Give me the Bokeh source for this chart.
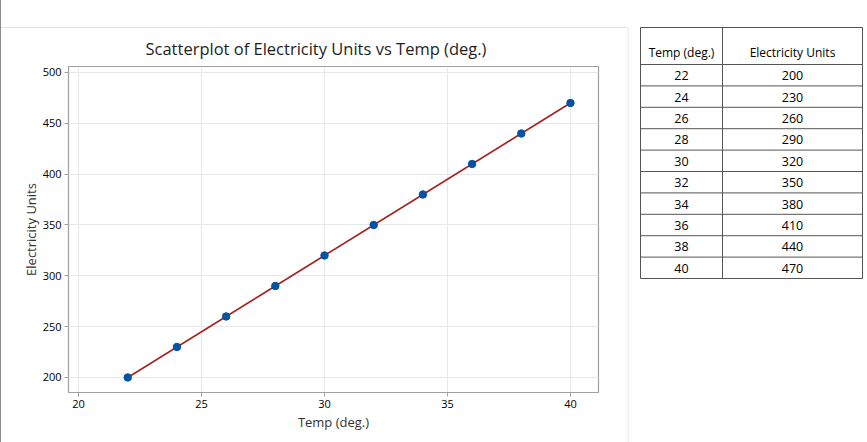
from bokeh.plotting import figure
from bokeh.layouts import row, column
from bokeh.models import Range1d, FixedTicker, Title
from bokeh.core.properties import value
from bokeh.embed import file_html
from bokeh.resources import INLINE

# Observations
temp = [22, 24, 26, 28, 30, 32, 34, 36, 38, 40]
units = [200, 230, 260, 290, 320, 350, 380, 410, 440, 470]
x_ticks = [20, 25, 30, 35, 40]
y_ticks = [200, 250, 300, 350, 400, 450, 500]
headers = ["Temp (deg.)", "Electricity Units"]

FONT = "Open Sans"

# ---- scatterplot ----
p = figure(width=627, height=442, output_backend="svg", toolbar_location=None,
           x_range=Range1d(19.59, 41.14), y_range=Range1d(185.2, 505.9),
           min_border_left=68, min_border_right=29, min_border_top=66,
           min_border_bottom=50)
p.title = Title(text="Scatterplot of Electricity Units vs Temp (deg.)",
                align="left", text_font=FONT, text_font_size="16.5px",
                text_font_style="normal", text_color="#1e1e1e", offset=77,
                standoff=14)
p.outline_line_color = "#a0a0a0"
p.outline_line_width = 1.2
p.background_fill_color = "white"
# transparent margins let the panel frame (drawn by CSS below) show through
p.border_fill_alpha = 0
p.styles = {
    "background": ("linear-gradient(#8c8c8c, #8c8c8c) 0 0 / 1px 442px no-repeat, "
                   "linear-gradient(#e0e0e0, #e0e0e0) 0 27px / 627px 1px no-repeat, "
                   "white"),
}

for ax in (p.xaxis, p.yaxis):
    ax.axis_line_color = "#a0a0a0"
    ax.major_tick_line_color = "#a0a0a0"
    ax.minor_tick_line_color = None
    ax.major_tick_in = 0
    ax.major_tick_out = 4
    ax.major_label_text_font = FONT
    ax.major_label_text_font_size = "11px"
    ax.major_label_text_color = "#000000"
    ax.axis_label_text_font = FONT
    ax.axis_label_text_font_size = "13px"
    ax.axis_label_text_font_style = "normal"
    ax.axis_label_text_color = "#333333"
p.xaxis.ticker = FixedTicker(ticks=x_ticks)
p.yaxis.ticker = FixedTicker(ticks=y_ticks)
p.xaxis.axis_label = "Temp (deg.)"
p.yaxis.axis_label = "Electricity Units"
p.xaxis.major_label_standoff = 3
p.yaxis.major_label_standoff = 3
p.xaxis.axis_label_standoff = 2
p.yaxis.axis_label_standoff = 0
p.xgrid.ticker = FixedTicker(ticks=x_ticks)
p.ygrid.ticker = FixedTicker(ticks=y_ticks)
p.xgrid.grid_line_color = "#e8e8e8"
p.ygrid.grid_line_color = "#e8e8e8"

p.line(temp, units, line_color="#a52522", line_width=1.6)
p.scatter(temp, units, size=7.5, fill_color="#0553a3", line_color="#0553a3")

# ---- data table ----
t = figure(width=240, height=442, output_backend="svg", toolbar_location=None,
           x_range=Range1d(627, 867), y_range=Range1d(442, 0),
           min_border=0, x_axis_type=None, y_axis_type=None)
t.outline_line_color = None
t.xgrid.visible = False
t.ygrid.visible = False
t.border_fill_color = "white"

tbl_left, tbl_mid, tbl_right = 640, 722, 862
tbl_top, head_bottom, row_h = 27, 64, 21.4
n = len(temp)
tbl_bottom = head_bottom + n * row_h

# separator beside the chart panel
t.segment(x0=[627.5], y0=[27], x1=[627.5], y1=[442], line_color="#e0e0e0", line_width=1)

ys = [tbl_top, head_bottom] + [head_bottom + (i + 1) * row_h for i in range(n)]
t.segment(x0=[tbl_left] * len(ys), y0=ys, x1=[tbl_right] * len(ys), y1=ys,
          line_color="#555555", line_width=1)
t.segment(x0=[tbl_left, tbl_mid, tbl_right], y0=[tbl_top] * 3,
          x1=[tbl_left, tbl_mid, tbl_right], y1=[tbl_bottom] * 3,
          line_color="#555555", line_width=1)

col_c = [(tbl_left + tbl_mid) / 2, (tbl_mid + tbl_right) / 2]
t.text(x=col_c, y=[head_bottom - 4] * 2, text=headers, text_align="center",
       text_baseline="bottom", text_font=value(FONT), text_font_size="12px",
       text_color="#000000")
row_y = [head_bottom + (i + 0.5) * row_h + 0.5 for i in range(n)]
t.text(x=[col_c[0]] * n, y=row_y, text=[str(v) for v in temp], text_align="center",
       text_baseline="middle", text_font=value(FONT), text_font_size="12.5px",
       text_color="#000000")
t.text(x=[col_c[1]] * n, y=row_y, text=[str(v) for v in units], text_align="center",
       text_baseline="middle", text_font=value(FONT), text_font_size="12.5px",
       text_color="#000000")

layout = row(p, column(t), spacing=0)
open("out.html", "w").write(file_html(layout, INLINE))
